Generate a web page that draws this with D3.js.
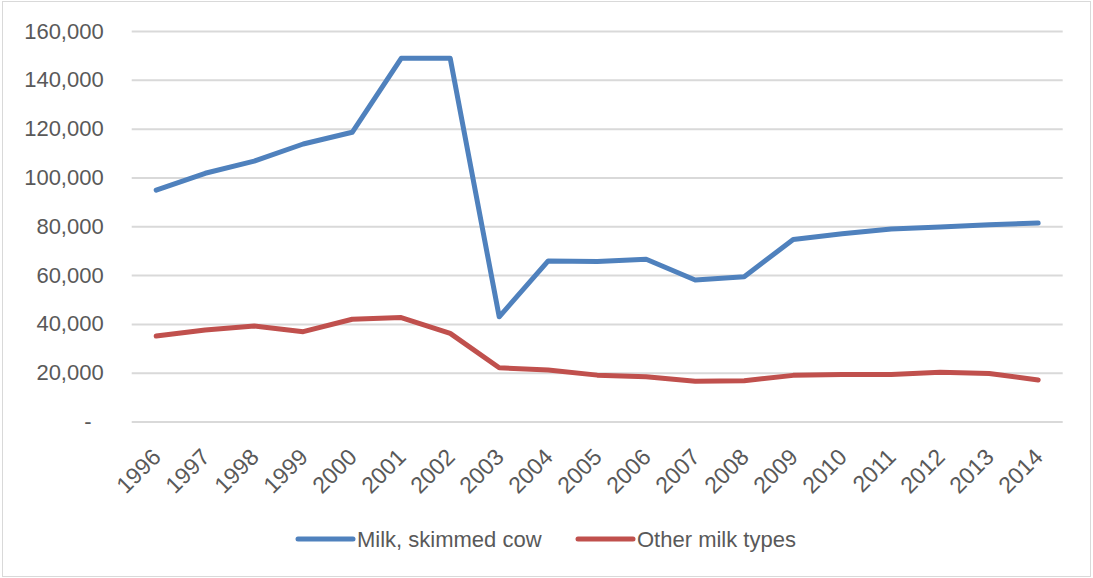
<!DOCTYPE html>
<html><head><meta charset="utf-8">
<script src="https://cdn.jsdelivr.net/npm/d3@7"></script>
<style>body{margin:0;background:#fff}svg{display:block}text{font-family:"Liberation Sans",Arial,sans-serif;fill:#595959}</style>
</head><body><svg id="c" width="1093" height="578"></svg>
<script>
const years = ["1996","1997","1998","1999","2000","2001","2002","2003","2004","2005","2006","2007","2008","2009","2010","2011","2012","2013","2014"];
const skimmed = [94800,101700,106700,113700,118500,148800,148800,42900,65800,65600,66500,58000,59300,74600,76900,78900,79700,80600,81300];
const other = [35000,37500,39100,36800,41900,42600,36100,22000,21100,19000,18300,16500,16700,18900,19300,19300,20200,19700,17000];
const yTicks = [0,20000,40000,60000,80000,100000,120000,140000,160000];
const seriesNames = ["Milk, skimmed cow","Other milk types"];
const colors = ["#4F81BD","#C0504D"];

const svg = d3.select("#c");
svg.append("rect").attr("x",2.5).attr("y",1.5).attr("width",1088).attr("height",575)
  .attr("fill","#fff").attr("stroke","#D9D9D9").attr("stroke-width",1);

const x = d3.scaleBand().domain(years).range([131.7,1062.7]);
const y = d3.scaleLinear().domain([0,160000]).range([421.5,31]);

const fmt = d => d===0 ? "-" : d3.format(",")(d);
const yAxis = svg.append("g").attr("transform","translate(131.7,0)")
  .call(d3.axisLeft(y).tickValues(yTicks).tickSize(-931).tickFormat(fmt).tickPadding(28));
yAxis.select(".domain").remove();
yAxis.selectAll("line").attr("stroke","#D9D9D9").attr("stroke-width",2);
yAxis.selectAll("text").style("font-size","22px").attr("fill","#595959").attr("dx", d=> d===0 ? -12 : 0);

const xAxis = svg.append("g").attr("transform","translate(0,421.5)")
  .call(d3.axisBottom(x).tickSize(0).tickFormat(d=>d));
xAxis.select(".domain").remove();
xAxis.selectAll("text").style("font-size","23px").attr("fill","#595959")
  .attr("text-anchor","end").attr("dy",0).attr("y",0)
  .attr("transform","translate(6,37) rotate(-45)");

const line = d3.line().x((d,i)=>x(years[i])+x.bandwidth()/2).y(d=>y(d));
[skimmed,other].forEach((s,k)=>{
  svg.append("path").datum(s).attr("d",line).attr("fill","none")
    .attr("stroke",colors[k]).attr("stroke-width",5).attr("stroke-linejoin","round").attr("stroke-linecap","round");
});

const leg = [{x:298,tx:357},{x:578,tx:637}];
seriesNames.forEach((n,k)=>{
  svg.append("line").attr("x1",leg[k].x).attr("x2",leg[k].x+55).attr("y1",539).attr("y2",539)
    .attr("stroke",colors[k]).attr("stroke-width",5).attr("stroke-linecap","round");
  svg.append("text").attr("x",leg[k].tx).attr("y",539).attr("dy","0.35em").style("font-size","22px").text(n);
});
</script></body></html>
